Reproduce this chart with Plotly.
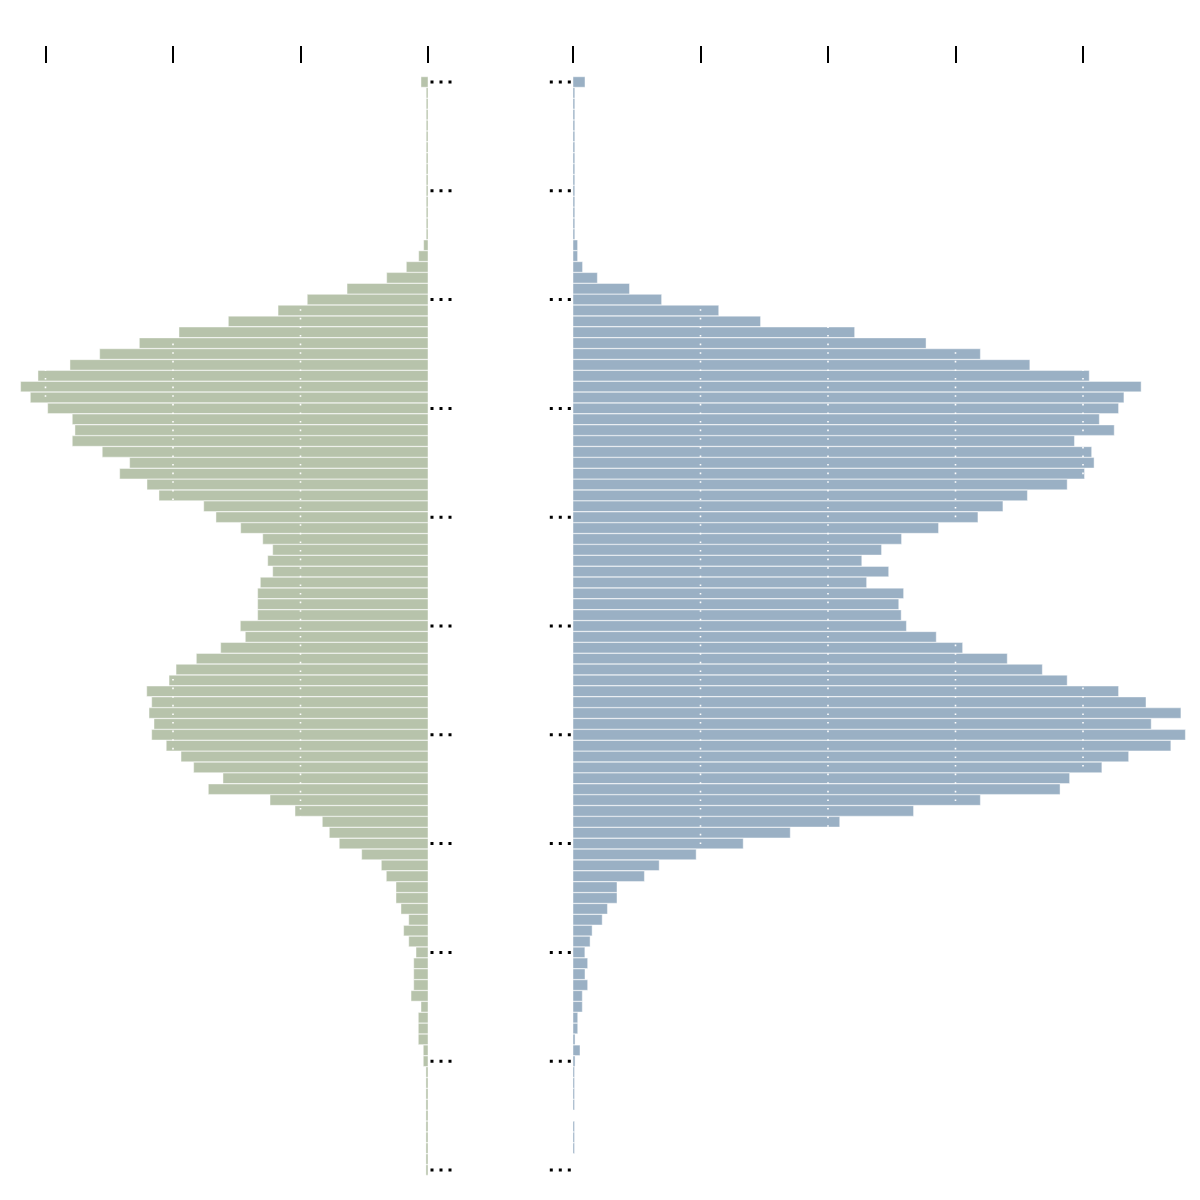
import plotly.graph_objects as go

# Row index (top -> bottom), 101 rows
rows = list(range(101))

left_values = [
    0.055, 0.014, 0.014, 0.014, 0.014, 0.014, 0.014, 0.014, 0.014, 0.014,
    0.014, 0.014, 0.014, 0.014, 0.014, 0.034, 0.073, 0.170, 0.324, 0.635,
    0.947, 1.176, 1.566, 1.953, 2.264, 2.575, 2.808, 3.059, 3.195, 3.119,
    2.983, 2.790, 2.769, 2.790, 2.555, 2.340, 2.418, 2.204, 2.110, 1.759,
    1.663, 1.469, 1.296, 1.218, 1.257, 1.218, 1.315, 1.336, 1.336, 1.336,
    1.472, 1.433, 1.626, 1.817, 1.976, 2.031, 2.206, 2.167, 2.188, 2.149,
    2.167, 2.053, 1.937, 1.838, 1.608, 1.723, 1.239, 1.043, 0.829, 0.774,
    0.696, 0.520, 0.366, 0.327, 0.251, 0.251, 0.212, 0.151, 0.191, 0.151,
    0.094, 0.112, 0.112, 0.112, 0.133, 0.055, 0.076, 0.076, 0.076, 0.037,
    0.037, 0.016, 0.016, 0.016, 0.016, 0.016, 0.016, 0.016, 0.016, 0.016,
    0.016,
]

right_values = [
    0.094, 0.014, 0.014, 0.014, 0.014, 0.014, 0.014, 0.014, 0.014, 0.014,
    0.014, 0.014, 0.014, 0.014, 0.014, 0.036, 0.036, 0.075, 0.191, 0.443,
    0.695, 1.143, 1.471, 2.209, 2.769, 3.195, 3.583, 4.049, 4.456, 4.321,
    4.279, 4.128, 4.245, 3.933, 4.068, 4.087, 4.012, 3.876, 3.564, 3.372,
    3.176, 2.867, 2.577, 2.420, 2.265, 2.476, 2.303, 2.593, 2.555, 2.574,
    2.615, 2.849, 3.056, 3.406, 3.681, 3.876, 4.279, 4.494, 4.768, 4.535,
    4.803, 4.689, 4.358, 4.148, 3.895, 3.820, 3.195, 2.671, 2.092, 1.704,
    1.335, 0.966, 0.676, 0.560, 0.345, 0.345, 0.270, 0.229, 0.150, 0.134,
    0.093, 0.115, 0.094, 0.115, 0.073, 0.073, 0.037, 0.037, 0.016, 0.055,
    0.016, 0.012, 0.012, 0.012, 0.012, 0.0, 0.012, 0.012, 0.012, 0.0,
    0.0,
]

left_ticks = [0, 1, 2, 3]
right_ticks = [0, 1, 2, 3, 4]
left_grid = [1, 2, 3]
right_grid = [1, 2, 3, 4]
marker_rows = list(range(0, 101, 10))

GREEN = "rgb(183,195,171)"
BLUE = "rgb(154,176,196)"
W = 1192.0
H = 1192
PX_PER_UNIT = 127.5
LEFT_ZERO = 420.0   # figure px (page offset of 8px)
RIGHT_ZERO = 565.0

fig = go.Figure()
fig.add_trace(go.Bar(
    y=rows, x=left_values, orientation="h", xaxis="x", yaxis="y",
    marker=dict(color=GREEN, line=dict(color="rgba(255,255,255,0.75)", width=0.6)),
    hoverinfo="skip", showlegend=False,
))
fig.add_trace(go.Bar(
    y=rows, x=right_values, orientation="h", xaxis="x2", yaxis="y",
    marker=dict(color=BLUE, line=dict(color="rgba(255,255,255,0.75)", width=0.6)),
    hoverinfo="skip", showlegend=False,
))

shapes = []
# white dotted grid lines drawn over the bars
for v in left_grid:
    shapes.append(dict(type="line", xref="x", yref="paper", x0=v, x1=v, y0=0, y1=1,
                       layer="above", line=dict(color="white", width=1.6, dash="1.6px,7px")))
for v in right_grid:
    shapes.append(dict(type="line", xref="x2", yref="paper", x0=v, x1=v, y0=0, y1=1,
                       layer="above", line=dict(color="white", width=1.6, dash="1.6px,7px")))
# dotted row ticks at inner edges
for r in marker_rows:
    shapes.append(dict(type="line", xref="paper", yref="y",
                       x0=422.5 / W, x1=444 / W, y0=r, y1=r,
                       layer="above", line=dict(color="black", width=3, dash="3px,6px")))
    shapes.append(dict(type="line", xref="paper", yref="y",
                       x0=562.8 / W, x1=540 / W, y0=r, y1=r,
                       layer="above", line=dict(color="black", width=3, dash="3px,6px")))

fig.update_layout(
    width=int(W), height=H,
    margin=dict(l=0, r=0, t=56, b=12, pad=0),
    paper_bgcolor="white", plot_bgcolor="white",
    bargap=0.04,
    shapes=shapes,
    xaxis=dict(domain=[0, LEFT_ZERO / W], range=[LEFT_ZERO / PX_PER_UNIT, 0],
               side="top", anchor="y", tickmode="array", tickvals=left_ticks,
               ticks="outside", ticklen=17, tickwidth=2, tickcolor="black",
               showticklabels=False, showgrid=False, zeroline=False, showline=False),
    xaxis2=dict(domain=[RIGHT_ZERO / W, 1], range=[0, (W - RIGHT_ZERO) / PX_PER_UNIT],
                side="top", anchor="y", tickmode="array", tickvals=right_ticks,
                ticks="outside", ticklen=17, tickwidth=2, tickcolor="black",
                showticklabels=False, showgrid=False, zeroline=False, showline=False),
    yaxis=dict(range=[101.654, -1.654], showticklabels=False, ticks="",
               showgrid=False, zeroline=False, showline=False),
)

fig.write_html("out.html")
